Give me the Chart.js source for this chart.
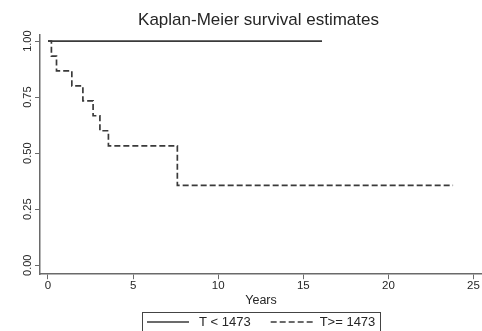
<!DOCTYPE html>
<html>
<head>
<meta charset="utf-8">
<script src="https://cdn.jsdelivr.net/npm/chart.js@4.4.1/dist/chart.umd.min.js"></script>
<style>
  html, body { margin: 0; padding: 0; background: #ffffff; }
  #wrap { width: 482px; height: 331px; }
</style>
</head>
<body>
<div id="wrap"><canvas id="c" width="482" height="331"></canvas></div>
<script>
// Data
const titleText = 'Kaplan-Meier survival estimates';
const xTitle = 'Years';
const xTicks = [0, 5, 10, 15, 20, 25];
const yTicks = [0, 0.25, 0.5, 0.75, 1.0];

const lowLabel = 'T < 1473';
const lowTimes = [0, 16.1];
const lowSurv  = [1.0, 1.0];

const highLabel = 'T>= 1473';
const highTimes = [0, 0.2, 0.5, 1.4, 2.05, 2.65, 3.05, 3.55, 7.6, 23.8];
const highSurv  = [1.0, 0.933, 0.867, 0.8, 0.733, 0.667, 0.6, 0.533, 0.356, 0.356];

const toPoints = (xs, ys) => xs.map((x, i) => ({ x: x, y: ys[i] }));

const FONT = '"Liberation Sans", Arial, Helvetica, sans-serif';
const INK = '#262626';
const AXIS = '#6a6a6a';
const LINE = '#3a3a3a';

// Rotated y-axis tick labels (Stata style), placed by the y scale
const yRotatedLabels = {
  id: 'yRotatedLabels',
  afterDraw(chart) {
    const ctx = chart.ctx;
    const ys = chart.scales.y;
    ctx.save();
    ctx.font = '11px ' + FONT;
    ctx.fillStyle = INK;
    ctx.textAlign = 'center';
    ctx.textBaseline = 'middle';
    const cx = ys.right - 12;
    yTicks.forEach(v => {
      const py = ys.getPixelForValue(v);
      ctx.save();
      ctx.translate(cx, py);
      ctx.rotate(-Math.PI / 2);
      ctx.fillText(v.toFixed(2), 0, 0);
      ctx.restore();
    });
    ctx.restore();
  }
};

// Custom boxed legend (Stata style), drawn from the datasets
const boxedLegend = {
  id: 'boxedLegend',
  afterDraw(chart) {
    const ctx = chart.ctx;
    const ds = chart.data.datasets;
    const area = chart.chartArea;
    const sampleW = [42, 45];
    const gapSample = [10, 4];
    const gapItem = 20;
    const padX = 5;
    ctx.save();
    ctx.font = '13px ' + FONT;
    const tw = ds.map(d => ctx.measureText(d.label).width);
    let total = padX * 2;
    ds.forEach((d, i) => { total += sampleW[i] + gapSample[i] + tw[i]; });
    total += gapItem * (ds.length - 1);
    const cx = (area.left + area.right) / 2;
    const left = Math.round(cx - total / 2);
    const top = 312;
    const yMid = 322;
    ctx.strokeStyle = '#444';
    ctx.lineWidth = 1;
    ctx.setLineDash([]);
    ctx.strokeRect(left + 0.5, top + 0.5, Math.round(total), 40);
    let x = left + padX;
    ds.forEach((d, i) => {
      ctx.beginPath();
      ctx.strokeStyle = d.borderColor;
      ctx.lineWidth = d.borderWidth;
      ctx.setLineDash(d.borderDash || []);
      ctx.moveTo(x, yMid);
      ctx.lineTo(x + sampleW[i], yMid);
      ctx.stroke();
      ctx.setLineDash([]);
      x += sampleW[i] + gapSample[i];
      ctx.fillStyle = INK;
      ctx.textAlign = 'left';
      ctx.textBaseline = 'middle';
      ctx.fillText(d.label, x, yMid + 0.5);
      x += tw[i] + gapItem;
    });
    ctx.restore();
  }
};

new Chart(document.getElementById('c'), {
  type: 'line',
  data: {
    datasets: [
      {
        label: lowLabel,
        data: toPoints(lowTimes, lowSurv),
        stepped: true,
        borderColor: LINE,
        borderWidth: 1.7,
        pointRadius: 0,
        fill: false
      },
      {
        label: highLabel,
        data: toPoints(highTimes, highSurv),
        stepped: true,
        borderColor: LINE,
        borderWidth: 1.7,
        borderDash: [6, 3],
        pointRadius: 0,
        fill: false
      }
    ]
  },
  options: {
    responsive: false,
    animation: false,
    devicePixelRatio: 1,
    layout: { padding: { left: 35, right: 0, top: 0, bottom: 20 } },
    plugins: {
      title: {
        display: true,
        text: titleText,
        color: INK,
        font: { family: FONT, size: 17, weight: 'normal' },
        padding: { top: 10, bottom: 4 }
      },
      legend: { display: false },
      tooltip: { enabled: false }
    },
    scales: {
      x: {
        type: 'linear',
        min: -0.47,
        max: 25.5,
        afterBuildTicks: (s) => { s.ticks = xTicks.map(v => ({ value: v })); },
        ticks: { color: INK, font: { family: FONT, size: 11.5 }, padding: 0, maxRotation: 0 },
        grid: { display: true, drawOnChartArea: false, drawTicks: true, tickLength: 5, color: AXIS },
        border: { display: true, color: AXIS, width: 1.5 },
        title: { display: true, text: xTitle, color: INK, font: { family: FONT, size: 12.5 }, padding: { top: 0, bottom: 3 } }
      },
      y: {
        type: 'linear',
        min: -0.04,
        max: 1.03,
        afterBuildTicks: (s) => { s.ticks = yTicks.map(v => ({ value: v })); },
        ticks: { display: false },
        grid: { display: true, drawOnChartArea: false, drawTicks: true, tickLength: 5, color: AXIS },
        border: { display: true, color: AXIS, width: 1.5 }
      }
    }
  },
  plugins: [yRotatedLabels, boxedLegend]
});
</script>
</body>
</html>
